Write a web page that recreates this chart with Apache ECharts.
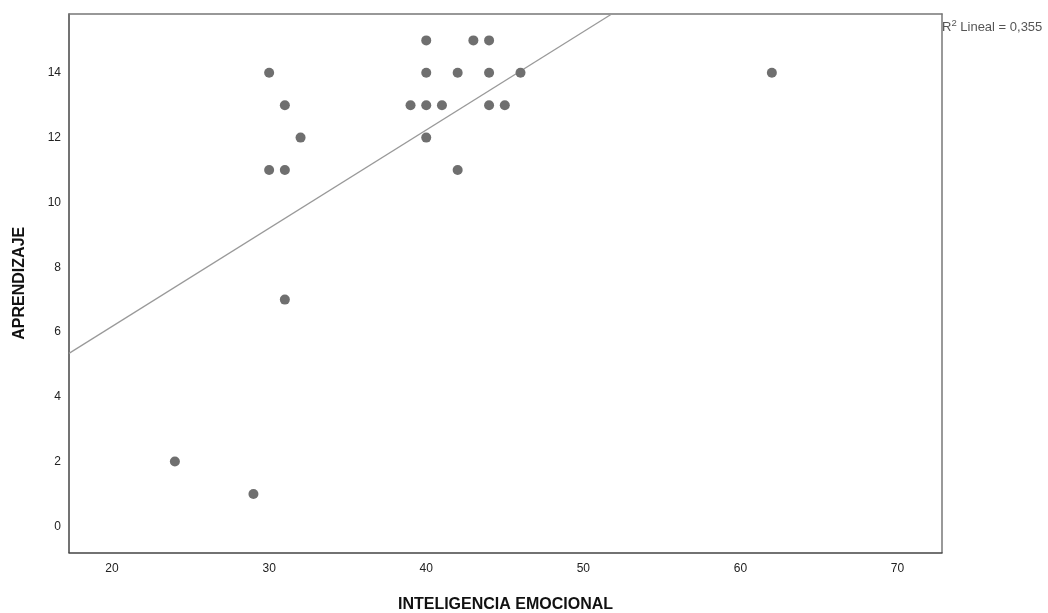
<!DOCTYPE html>
<html>
<head>
<meta charset="utf-8">
<script src="https://cdn.jsdelivr.net/npm/echarts@6/dist/echarts.min.js"></script>
<style>
html,body{margin:0;padding:0;background:#fff;}
#chart{width:1048px;height:613px;}
</style>
</head>
<body>
<div id="chart"></div>
<script>
// Data
const inteligencia = [24, 29, 30, 30, 31, 31, 31, 32, 39, 40, 40, 40, 40, 41, 42, 42, 43, 44, 44, 44, 45, 46, 62];
const aprendizaje  = [2, 1, 14, 11, 13, 11, 7, 12, 13, 15, 14, 13, 12, 13, 14, 11, 15, 15, 14, 13, 13, 14, 14];
// Fit line as drawn in the reference
const fitIntercept = 0.107;
const fitSlope = 0.3032;
const r2Value = '0,355';
const xTicks = [20, 30, 40, 50, 60, 70];
const yTicks = [0, 2, 4, 6, 8, 10, 12, 14];

const xMin = 17.26, xMax = 72.83;
const yMin = -0.806, yMax = 15.815;

const points = inteligencia.map((x, i) => [x, aprendizaje[i]]);
const fitLine = [[xMin, fitIntercept + fitSlope * xMin], [xMax, fitIntercept + fitSlope * xMax]];

const chart = echarts.init(document.getElementById('chart'), null, {renderer: 'canvas'});
const FF = 'Liberation Sans, Arial, sans-serif';
const labelFont = {fontFamily: FF, fontSize: 12, color: '#222'};

chart.setOption({
  animation: false,
  backgroundColor: '#fff',
  grid: {left: 69, top: 14, right: 106, bottom: 60.5, containLabel: false, outerBoundsMode: 'none'},
  xAxis: [{
    type: 'value', min: xMin, max: xMax,
    position: 'bottom',
    name: 'INTELIGENCIA EMOCIONAL', nameLocation: 'middle', nameGap: 44,
    nameTextStyle: {fontFamily: FF, fontSize: 16, fontWeight: 'bold', color: '#111'},
    axisLine: {show: true, onZero: false, lineStyle: {color: '#444', width: 1.5}},
    splitLine: {show: false},
    axisLabel: Object.assign({margin: 10, customValues: xTicks}, labelFont),
    axisTick: {show: false, customValues: xTicks}
  }, {
    type: 'value', min: xMin, max: xMax, position: 'top',
    axisLine: {show: true, onZero: false, lineStyle: {color: '#777', width: 1.5}},
    axisTick: {show: false}, axisLabel: {show: false}, splitLine: {show: false}
  }],
  yAxis: [{
    type: 'value', min: yMin, max: yMax,
    position: 'left',
    name: 'APRENDIZAJE', nameLocation: 'middle', nameGap: 41,
    nameTextStyle: {fontFamily: FF, fontSize: 16, fontWeight: 'bold', color: '#111'},
    axisLine: {show: true, onZero: false, lineStyle: {color: '#444', width: 1.5}},
    splitLine: {show: false},
    axisLabel: Object.assign({margin: 8, customValues: yTicks}, labelFont),
    axisTick: {show: false, customValues: yTicks}
  }, {
    type: 'value', min: yMin, max: yMax, position: 'right',
    axisLine: {show: true, onZero: false, lineStyle: {color: '#777', width: 1.5}},
    axisTick: {show: false}, axisLabel: {show: false}, splitLine: {show: false}
  }],
  series: [{
    type: 'line',
    data: fitLine,
    xAxisIndex: 0, yAxisIndex: 0,
    showSymbol: false, symbol: 'none',
    clip: true,
    lineStyle: {color: '#999', width: 1.2},
    silent: true, z: 2
  }, {
    type: 'scatter',
    data: points,
    xAxisIndex: 0, yAxisIndex: 0,
    symbol: 'circle', symbolSize: 10,
    itemStyle: {color: '#6f6f6f', opacity: 1},
    z: 3
  }],
  graphic: [{
    type: 'text',
    left: 942, top: 18,
    style: {
      text: '{r|R}{s|2}{t| Lineal = ' + r2Value + '}',
      rich: {
        r: {fontFamily: FF, fontSize: 13, fill: '#555', lineHeight: 16, verticalAlign: 'bottom'},
        s: {fontFamily: FF, fontSize: 9.5, fill: '#555', lineHeight: 16, verticalAlign: 'top'},
        t: {fontFamily: FF, fontSize: 13, fill: '#555', lineHeight: 16, verticalAlign: 'bottom'}
      }
    }
  }]
});
</script>
</body>
</html>
